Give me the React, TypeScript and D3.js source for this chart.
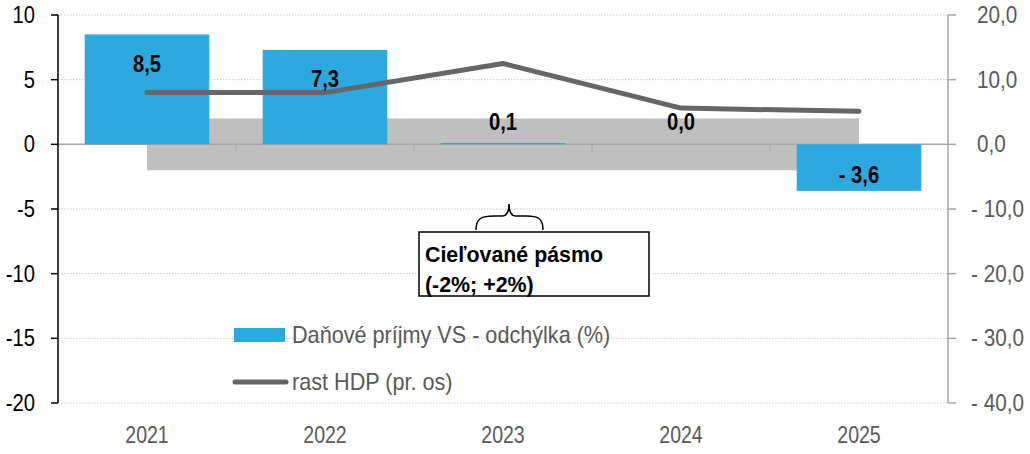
import React from 'react';
import * as d3 from 'd3';

// chart values
const years = ['2021', '2022', '2023', '2024', '2025'];
const taxDeviation = [8.5, 7.3, 0.1, 0.0, -3.6];
const gdpGrowth = [8.0, 8.0, 12.5, 5.6, 5.1];
const leftTicks = [10, 5, 0, -5, -10, -15, -20];
const rightTicks = [20, 10, 0, -10, -20, -30, -40];
const targetBand = [-2, 2];

const W = 1030;
const H = 454;
const plot = { left: 58, right: 948, top: 15, bottom: 403 };

const FONT = '"Liberation Sans", Arial, sans-serif';
const BLUE = '#2EA9E0';
const LINE = '#666666';
const BAND = '#BFBFBF';
const AXIS_GREY = '#A6A6A6';
const TEXT_GREY = '#595959';

const fmt = (v: number, digits: number) => {
    const s = Math.abs(v).toFixed(digits).replace('.', ',');
    return v < 0 ? '- ' + s : s;
};

// narrow-looking text: the reference uses a condensed face, so squeeze horizontally
const Txt: React.FC<{
    x: number;
    y: number;
    sx?: number;
    size?: number;
    anchor?: 'start' | 'middle' | 'end';
    bold?: boolean;
    fill?: string;
    dy?: string;
    children: React.ReactNode;
}> = ({ x, y, sx = 0.88, size = 23, anchor = 'start', bold, fill = '#000', dy, children }) => (
    <text
        transform={`translate(${x},${y}) scale(${sx},1)`}
        dy={dy}
        textAnchor={anchor}
        fontSize={size}
        fontWeight={bold ? 'bold' : 'normal'}
        fill={fill}
    >
        {children}
    </text>
);

const App: React.FC = () => {
    const x = d3
        .scaleBand<string>()
        .domain(years)
        .range([plot.left, plot.right])
        .paddingInner(0.3)
        .paddingOuter(0.15);
    const yL = d3.scaleLinear().domain([-20, 10]).range([plot.bottom, plot.top]);
    const yR = d3.scaleLinear().domain([-40, 20]).range([plot.bottom, plot.top]);
    const step = x.step();
    const cx = (d: string) => (x(d) ?? 0) + x.bandwidth() / 2;

    const linePath = d3
        .line<number>()
        .x((_, i) => cx(years[i]))
        .y((d) => yR(d))(gdpGrowth);

    const labelY = (v: number) => {
        if (v >= 1) return yL(v) + 29;
        if (v <= -1) return yL(v) - 16;
        return yL(0) - 23;
    };

    return (
        <svg
            width={W}
            height={H}
            style={{ position: 'absolute', left: 0, top: 0, fontFamily: FONT }}
        >
            <rect width={W} height={H} fill="#fff" />

            {/* gridlines */}
            {leftTicks
                .filter((t) => t !== 0)
                .map((t) => (
                    <line
                        key={'g' + t}
                        x1={plot.left}
                        x2={plot.right}
                        y1={yL(t)}
                        y2={yL(t)}
                        stroke="#C8C8C8"
                        strokeWidth={1}
                        strokeDasharray="1.5 1.5"
                    />
                ))}

            {/* target band */}
            <rect
                x={cx(years[0])}
                width={cx(years[years.length - 1]) - cx(years[0])}
                y={yL(targetBand[1])}
                height={yL(targetBand[0]) - yL(targetBand[1])}
                fill={BAND}
            />

            {/* zero line + category ticks */}
            <line x1={plot.left} x2={plot.right} y1={yL(0)} y2={yL(0)} stroke={AXIS_GREY} strokeWidth={1.5} />
            {years.slice(1).map((d) => (
                <line
                    key={'ct' + d}
                    x1={(x(d) ?? 0) - step * 0.15}
                    x2={(x(d) ?? 0) - step * 0.15}
                    y1={yL(0)}
                    y2={yL(0) + 8}
                    stroke={AXIS_GREY}
                    strokeWidth={1}
                />
            ))}

            {/* bars */}
            {years.map((d, i) => {
                const v = taxDeviation[i];
                const y0 = yL(Math.max(0, v));
                const h = Math.abs(yL(v) - yL(0));
                return (
                    <rect
                        key={'b' + d}
                        x={x(d)}
                        width={x.bandwidth()}
                        y={y0}
                        height={Math.max(h, v !== 0 ? 1 : 0)}
                        fill={BLUE}
                    />
                );
            })}

            {/* GDP line */}
            <path d={linePath ?? ''} fill="none" stroke={LINE} strokeWidth={5} strokeLinecap="round" strokeLinejoin="round" />

            {/* data labels */}
            {years.map((d, i) => (
                <Txt key={'l' + d} x={cx(d)} y={labelY(taxDeviation[i])} dy="0.35em" anchor="middle" size={23.5} sx={0.86} bold>
                    {fmt(taxDeviation[i], 1)}
                </Txt>
            ))}

            {/* left axis */}
            <line x1={plot.left} x2={plot.left} y1={plot.top} y2={plot.bottom} stroke="#000" strokeWidth={1.5} />
            {leftTicks.map((t) => (
                <g key={'lt' + t}>
                    <line x1={plot.left - 7} x2={plot.left} y1={yL(t)} y2={yL(t)} stroke="#000" strokeWidth={1.5} />
                    <Txt x={35} y={yL(t)} dy="0.35em" anchor="end" sx={0.88}>
                        {t}
                    </Txt>
                </g>
            ))}

            {/* right axis */}
            <line x1={plot.right} x2={plot.right} y1={plot.top} y2={plot.bottom} stroke={AXIS_GREY} strokeWidth={1.5} />
            {rightTicks.map((t) => (
                <g key={'rt' + t}>
                    <line x1={plot.right} x2={plot.right + 8} y1={yR(t)} y2={yR(t)} stroke={AXIS_GREY} strokeWidth={1.5} />
                    <Txt x={t < 0 ? 971 : 977} y={yR(t)} dy="0.35em" sx={0.9} fill={TEXT_GREY}>
                        {fmt(t, 1)}
                    </Txt>
                </g>
            ))}

            {/* x labels */}
            {years.map((d) => (
                <Txt key={'x' + d} x={cx(d)} y={443} anchor="middle" sx={0.85} fill={TEXT_GREY}>
                    {d}
                </Txt>
            ))}

            {/* annotation */}
            <path
                d="M476,230 C476,218 482,216 494,216 L502,216 C507,216 509,212 509,204 C509,212 511,216 516,216 L526,216 C538,216 543,218 543,230"
                fill="none"
                stroke="#000"
                strokeWidth={1.5}
            />
            <rect x={419} y={232} width={230} height={64} fill="#fff" stroke="#000" strokeWidth={1.5} />
            <Txt x={425} y={262} sx={0.93} bold>
                Cieľované pásmo
            </Txt>
            <Txt x={425} y={292} sx={0.93} bold>
                (-2%; +2%)
            </Txt>

            {/* legend */}
            <rect x={234} y={328} width={51} height={14} fill={BLUE} />
            <Txt x={292} y={343} sx={0.94} fill={TEXT_GREY}>
                Daňové príjmy VS - odchýlka (%)
            </Txt>
            <line x1={235} x2={286} y1={382} y2={382} stroke={LINE} strokeWidth={5} strokeLinecap="round" />
            <Txt x={292} y={390} sx={0.94} fill={TEXT_GREY}>
                rast HDP (pr. os)
            </Txt>
        </svg>
    );
};

export default App;
